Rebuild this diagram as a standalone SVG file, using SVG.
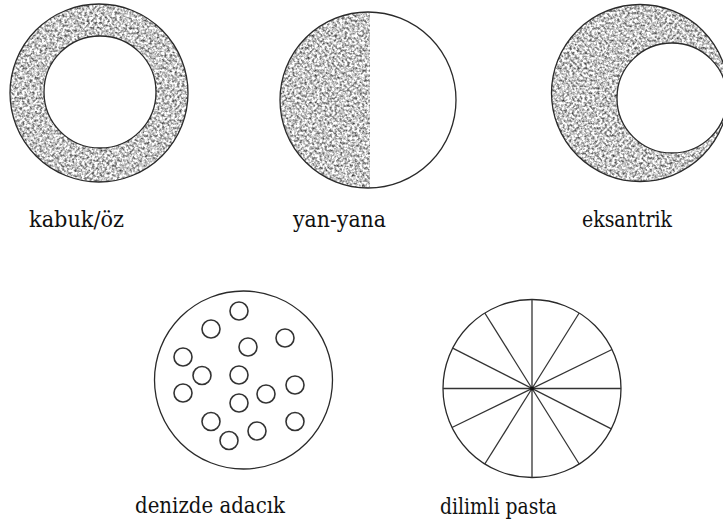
<svg xmlns="http://www.w3.org/2000/svg" width="723" height="528" viewBox="0 0 723 528">
<style>
.lbl{font-family:"DejaVu Serif","Liberation Serif","Times New Roman",serif;font-size:22px;fill:#111}
.edge{fill:none;stroke:#2a2a2a;stroke-width:1.3}
.hole{fill:#fff;stroke:#2a2a2a;stroke-width:1.3}
.isl{fill:none;stroke:#333;stroke-width:1.6}
.spoke{stroke:#333;stroke-width:1.3}
.tex{fill:#000;filter:url(#grain)}
</style>
<defs>
<filter id="grain" x="0" y="0" width="100%" height="100%" color-interpolation-filters="sRGB">
<feTurbulence type="fractalNoise" baseFrequency="0.4" numOctaves="2" seed="7" result="n"/>
<feColorMatrix in="n" type="matrix" values="1.5 0 0 0 0.03  1.5 0 0 0 0.03  1.5 0 0 0 0.03  0 0 0 0 1" result="g"/>
<feComposite in="g" in2="SourceAlpha" operator="in"/>
</filter>
</defs>
<rect width="723" height="528" fill="#fff"/>

<g id="kabuk-oz">
<circle class="tex" cx="99" cy="93" r="89"/>
<circle class="edge" cx="99" cy="93" r="89"/>
<circle class="hole" cx="100" cy="92" r="56"/>
<text class="lbl" x="29" y="227" textLength="95" lengthAdjust="spacingAndGlyphs">kabuk/öz</text>
</g>

<g id="yan-yana">
<path class="tex" d="M370,12.02 A88,88 0 1 0 370,187.98 Z"/>
<circle class="edge" cx="368" cy="100" r="88"/>
<text class="lbl" x="293" y="227" textLength="93" lengthAdjust="spacingAndGlyphs">yan-yana</text>
</g>

<g id="eksantrik">
<circle class="tex" cx="640" cy="93" r="88.5"/>
<circle class="edge" cx="640" cy="93" r="88.5"/>
<circle class="hole" cx="672" cy="98" r="55"/>
<text class="lbl" x="582" y="227" textLength="90" lengthAdjust="spacingAndGlyphs">eksantrik</text>
</g>

<g id="denizde-adacik">
<circle class="edge" cx="243.5" cy="380" r="89"/>
<circle class="isl" cx="239" cy="311" r="9"/>
<circle class="isl" cx="211" cy="329" r="9"/>
<circle class="isl" cx="285" cy="338" r="9"/>
<circle class="isl" cx="248" cy="347" r="9"/>
<circle class="isl" cx="183" cy="357" r="9"/>
<circle class="isl" cx="202" cy="375.5" r="9"/>
<circle class="isl" cx="239" cy="375" r="9"/>
<circle class="isl" cx="295" cy="385" r="9"/>
<circle class="isl" cx="183" cy="393" r="9"/>
<circle class="isl" cx="266" cy="394" r="9"/>
<circle class="isl" cx="239" cy="403" r="9"/>
<circle class="isl" cx="211" cy="421.5" r="9"/>
<circle class="isl" cx="295" cy="421.5" r="9"/>
<circle class="isl" cx="257" cy="431" r="9"/>
<circle class="isl" cx="229" cy="440.5" r="9"/>
<text class="lbl" x="135" y="513" textLength="150" lengthAdjust="spacingAndGlyphs">denizde adacık</text>
</g>

<g id="dilimli-pasta">
<circle class="edge" cx="532" cy="388.5" r="89"/>
<line class="spoke" x1="443" y1="388.5" x2="621" y2="388.5" stroke-width="2"/>
<line class="spoke" x1="532" y1="299.5" x2="532" y2="477.5" stroke="#555" stroke-width="1.6"/>
<line class="spoke" x1="612" y1="349.5" x2="452" y2="427.5"/>
<line class="spoke" x1="579.2" y1="313" x2="484.8" y2="464"/>
<line class="spoke" x1="484.8" y1="313" x2="579.2" y2="464"/>
<line class="spoke" x1="452.7" y1="348.1" x2="611.3" y2="428.9"/>
<circle cx="532" cy="388.5" r="2" fill="#111"/>
<text class="lbl" x="440" y="514" textLength="117" lengthAdjust="spacingAndGlyphs">dilimli pasta</text>
</g>
</svg>
